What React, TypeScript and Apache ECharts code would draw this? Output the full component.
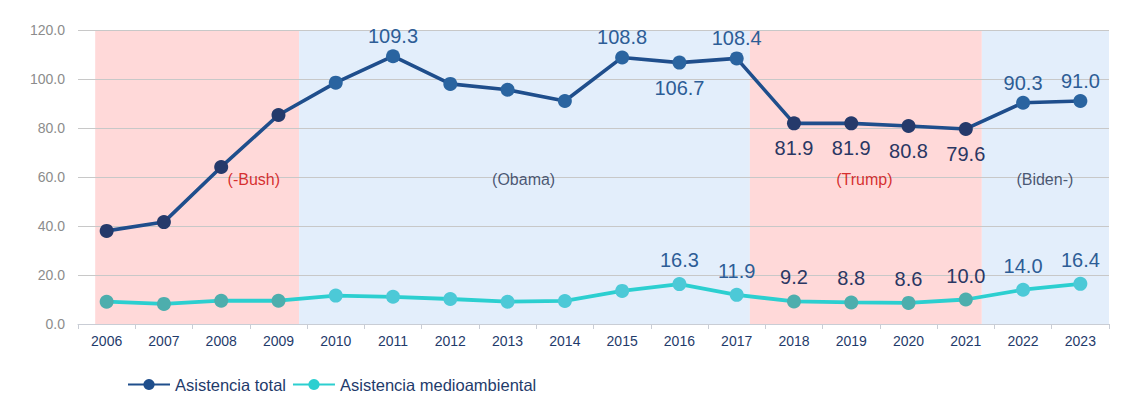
import React, { useEffect, useRef } from "react";
import * as echarts from "echarts";

const years = ["2006","2007","2008","2009","2010","2011","2012","2013","2014","2015","2016","2017","2018","2019","2020","2021","2022","2023"];
const totalValues = [38.0, 41.6, 64.1, 85.3, 98.5, 109.3, 98.0, 95.6, 91.0, 108.8, 106.7, 108.4, 81.9, 81.9, 80.8, 79.6, 90.3, 91.0];
const envValues = [9.1, 8.2, 9.5, 9.5, 11.6, 11.1, 10.2, 9.1, 9.4, 13.5, 16.3, 11.9, 9.2, 8.8, 8.6, 10.0, 14.0, 16.4];
// "" = no label
const totalLabelPos = ["", "", "", "", "", "top", "", "", "", "top", "bottom", "top", "bottom", "bottom", "bottom", "bottom", "top", "top"];
const envLabelPos = ["", "", "", "", "", "", "", "", "", "", "top", "top", "top", "top", "top", "top", "top", "top"];
const yTicks = [0, 20, 40, 60, 80, 100, 120];

// presidential eras, in category-index units along the x axis
const eraNames = ["(-Bush)", "(Obama)", "(Trump)", "(Biden-)"];
const eraStart = [0.3, 3.86, 11.73, 15.78];
const eraEnd = [3.86, 11.73, 15.78, 18];
const eraLabelX = [3.07, 7.78, 13.73, 16.88];
const eraLabelY = [59, 59, 59, 59];
const eraIsRed = [true, false, true, false];

const FONT = "'Liberation Sans', Arial, sans-serif";
const C = {
  pink: "#FFD9D9",
  blue: "#E3EEFB",
  totalDark: "#253A6B",
  totalBlue: "#2A64A0",
  envTeal: "#4DAEAD",
  envCyan: "#4CC9D7",
  labelDark: "#2A3763",
  labelBlue: "#2D5D96",
  red: "#CC0000",
  navy: "#1F3B6B",
};

function eraIndexAt(i: number) {
  for (let k = 0; k < eraStart.length; k++) {
    if (i >= eraStart[k] && i < eraEnd[k]) return k;
  }
  return 0;
}

function buildData(values: number[], pos: string[], upDist: number, downDist: number) {
  return values.map((v, i) => {
    const red = eraIsRed[eraIndexAt(i)];
    return {
      value: v,
      label: pos[i]
        ? {
            show: true,
            position: pos[i],
            distance: pos[i] === "top" ? upDist : downDist,
            color: red ? C.labelDark : C.labelBlue,
          }
        : { show: false },
    };
  });
}

function pieces(darkColor: string, lightColor: string) {
  return eraStart.map((s, k) => {
    const p: any = { color: eraIsRed[k] ? darkColor : lightColor };
    if (k > 0) p.gte = s;
    if (k < eraStart.length - 1) p.lt = eraEnd[k];
    return p;
  });
}

export default function App() {
  const ref = useRef<HTMLDivElement>(null);
  useEffect(() => {
    document.body.style.margin = "0";
    const chart = echarts.init(ref.current!, null, { renderer: "svg" });
    chart.setOption({
      animation: false,
      textStyle: { fontFamily: FONT },
      grid: { left: 78, right: 22, top: 30, bottom: 73 },
      legend: {
        left: 122,
        top: 371,
        itemWidth: 42,
        itemHeight: 14,
        itemGap: 6,
        textStyle: { fontSize: 16.5, color: C.navy, fontFamily: FONT },
        data: ["Asistencia total", "Asistencia medioambiental"],
      },
      visualMap: [
        { type: "piecewise", show: false, dimension: 0, seriesIndex: 0, pieces: pieces(C.totalDark, C.totalBlue) },
        { type: "piecewise", show: false, dimension: 0, seriesIndex: 1, pieces: pieces(C.envTeal, C.envCyan) },
      ],
      xAxis: [
        {
          type: "category",
          data: years,
          boundaryGap: true,
          axisLine: { lineStyle: { color: "#C9CDD5", width: 1 } },
          axisTick: { show: true, length: 5, lineStyle: { color: "#C9CDD5" } },
          axisLabel: { fontSize: 14, color: C.navy, margin: 10, fontFamily: FONT },
          z: 4,
        },
        { type: "value", min: 0, max: 18, show: false },
      ],
      yAxis: {
        type: "value",
        min: 0,
        max: 120,
        interval: 20,
        axisLine: { show: false },
        axisTick: { show: false },
        axisLabel: {
          fontSize: 14,
          color: "#8C8C8C",
          margin: 13,
          fontFamily: FONT,
          formatter: (v: number) => (yTicks.includes(v) ? v.toFixed(1) : ""),
        },
        splitLine: { lineStyle: { color: "#C8C8C8", width: 1 } },
        z: 4,
      },
      series: [
        {
          name: "Asistencia total",
          type: "line",
          data: buildData(totalValues, totalLabelPos, 3, 8),
          symbol: "circle",
          symbolSize: 14,
          lineStyle: { width: 3.6, color: "#1F4E8C" },
          itemStyle: { color: "#1F4E8C" },
          label: { fontSize: 20, fontFamily: FONT, formatter: (p: any) => p.value.toFixed(1) },
          z: 6,
        },
        {
          name: "Asistencia medioambiental",
          type: "line",
          data: buildData(envValues, envLabelPos, 7, 7),
          symbol: "circle",
          symbolSize: 14,
          lineStyle: { width: 3.8, color: "#2CCFD0" },
          itemStyle: { color: "#2CCFD0" },
          label: { fontSize: 20, fontFamily: FONT, formatter: (p: any) => p.value.toFixed(1) },
          z: 6,
        },
        {
          name: "eraAreas",
          type: "scatter",
          xAxisIndex: 1,
          yAxisIndex: 0,
          symbolSize: 0,
          silent: true,
          z: 1,
          data: [],
          markArea: {
            silent: true,
            data: eraNames.map((n, k) => [
              { xAxis: eraStart[k], itemStyle: { color: eraIsRed[k] ? C.pink : C.blue } },
              { xAxis: eraEnd[k] },
            ]),
          },
        },
        {
          name: "eraLabels",
          type: "scatter",
          xAxisIndex: 1,
          yAxisIndex: 0,
          symbolSize: 0,
          silent: true,
          z: 5,
          data: eraNames.map((n, k) => ({
            name: n,
            value: [eraLabelX[k], eraLabelY[k]],
            label: {
              show: true,
              position: "inside",
              formatter: n,
              fontSize: 16,
              fontFamily: FONT,
              color: eraIsRed[k] ? C.red : "#1F3050",
            },
          })),
        },
      ],
    });
    return () => chart.dispose();
  }, []);
  return <div ref={ref} style={{ width: 1131, height: 397 }} />;
}
